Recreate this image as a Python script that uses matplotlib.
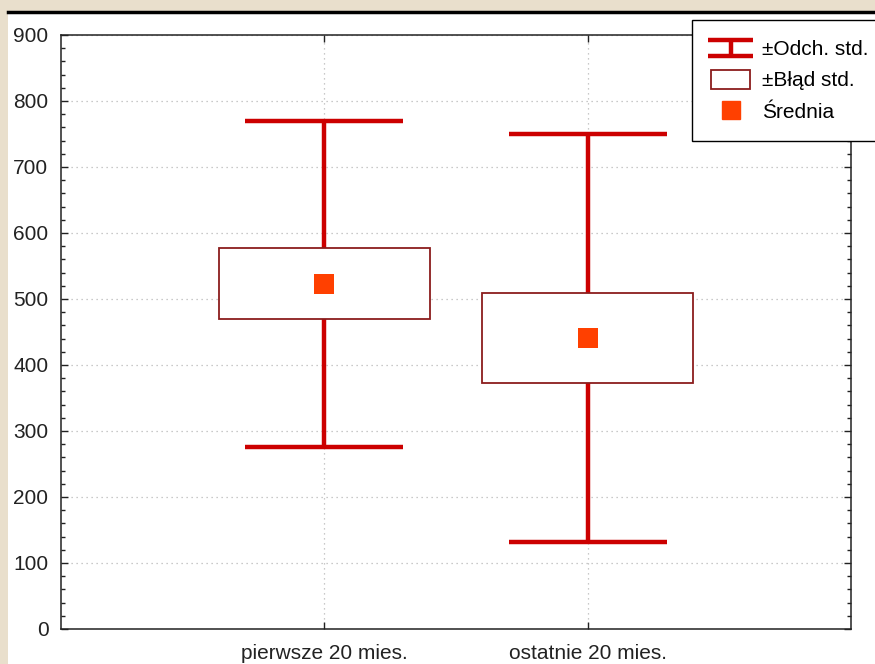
import matplotlib.pyplot as plt
from matplotlib.patches import Rectangle
from matplotlib.lines import Line2D
from matplotlib.legend_handler import HandlerBase
from matplotlib.ticker import MultipleLocator

# Data
categories = ['pierwsze 20 mies.', 'ostatnie 20 mies.']
means = [523, 441]
sd = [247, 309]
se = [54, 68]
y_ticks = [0, 100, 200, 300, 400, 500, 600, 700, 800, 900]

whisker_color = '#cc0000'
box_color = '#8b1c1c'
mean_color = '#ff4000'

plt.rcParams['font.family'] = ['Liberation Sans', 'DejaVu Sans']


class WhiskerHandler(HandlerBase):
    # draws the "I" shaped whisker symbol for the legend
    def create_artists(self, legend, orig_handle, xdescent, ydescent,
                       width, height, fontsize, trans):
        x0, x1 = -xdescent - 2, -xdescent + width + 2
        xm = (x0 + x1) / 2
        y0, y1 = -ydescent + 0.05 * height, -ydescent + 0.95 * height
        kw = dict(color=whisker_color, lw=3.2, solid_capstyle='butt', transform=trans)
        return [Line2D([x0, x1], [y0, y0], **kw),
                Line2D([x0, x1], [y1, y1], **kw),
                Line2D([xm, xm], [y0, y1], **kw)]


fig = plt.figure(figsize=(8.75, 6.64), dpi=100)
fig.patch.set_facecolor('#e9dfcc')
fig.patches.append(Rectangle((8 / 875, 0), 1, 1 - 14 / 664, transform=fig.transFigure,
                             facecolor='white', edgecolor='none', zorder=-5))
fig.lines.append(Line2D([8 / 875, 1], [1 - 12 / 664, 1 - 12 / 664], transform=fig.transFigure,
                        color='black', lw=2.5))

ax = fig.add_axes([61 / 875, 1 - 629 / 664, 790 / 875, 594 / 664])
ax.set_zorder(2)
ax.set_facecolor('white')

xs = [1, 2]
for x, m, s, e in zip(xs, means, sd, se):
    ax.vlines(x, m - s, m + s, color=whisker_color, lw=3.2, zorder=2)
    ax.hlines([m - s, m + s], x - 0.3, x + 0.3, color=whisker_color, lw=3.2, zorder=2)
    ax.add_patch(Rectangle((x - 0.4, m - e), 0.8, 2 * e, facecolor='white',
                           edgecolor=box_color, lw=1.3, zorder=3))
ax.scatter(xs, means, marker='s', s=210, color=mean_color, zorder=4, linewidths=0)

ax.set_xlim(0, 3)
ax.set_ylim(0, 900)
ax.set_xticks(xs)
ax.set_xticklabels(categories)
ax.set_yticks(y_ticks)
ax.yaxis.set_minor_locator(MultipleLocator(20))
ax.tick_params(which='both', direction='in', top=True, right=True, labelsize=15, colors='#222222')
ax.tick_params(which='major', length=5, width=1)
ax.tick_params(which='minor', length=3, width=1)
ax.tick_params(axis='x', pad=10.5)
ax.tick_params(axis='y', pad=9)
ax.grid(True, which='major', linestyle=(0, (1, 3)), color='#b8b8b8', lw=0.9)
ax.set_axisbelow(True)
for sp in ax.spines.values():
    sp.set_linewidth(1.1)
    sp.set_color('#222222')

handles = [Line2D([], []),
           Rectangle((0, 0), 1, 1, facecolor='white', edgecolor=box_color, lw=1.3),
           Line2D([], [], marker='s', ls='none', color=mean_color, markersize=13)]
labels = ['±Odch. std.', '±Błąd std.', 'Średnia']
leg = fig.legend(handles, labels, loc='upper left', bbox_to_anchor=(692 / 875, 1 - 20 / 664),
                 handler_map={handles[0]: WhiskerHandler()}, fontsize=15, frameon=True,
                 fancybox=False, edgecolor='black', framealpha=1, handlelength=1.9,
                 handleheight=1.0, labelspacing=0.52, borderpad=0.9, handletextpad=0.55,
                 borderaxespad=0)
leg.get_frame().set_linewidth(1.0)
leg.set_zorder(10)

fig.savefig('out.png', dpi=100, facecolor=fig.get_facecolor())
